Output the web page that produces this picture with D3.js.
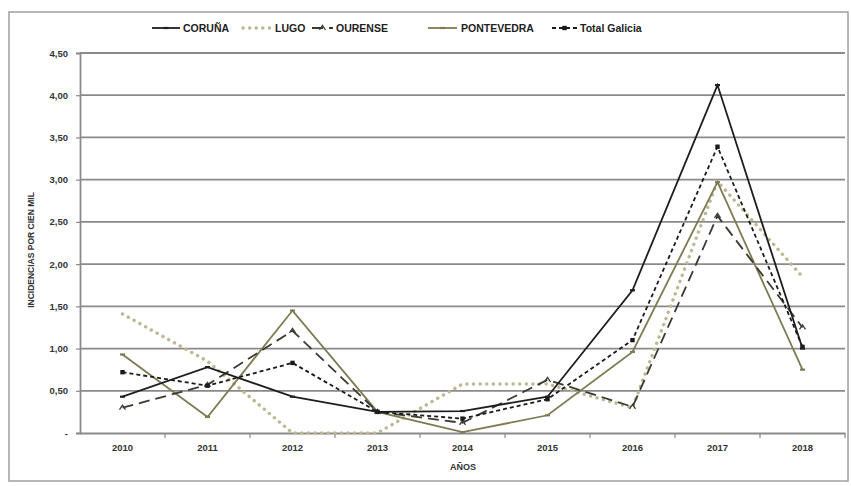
<!DOCTYPE html>
<html><head><meta charset="utf-8">
<script src="https://cdn.jsdelivr.net/npm/d3@7"></script>
<style>
body{margin:0;background:#fff;}
text{font-family:"Liberation Sans Narrow","Liberation Sans",Arial,sans-serif;font-weight:bold;}
</style></head>
<body><svg id="c" width="851" height="486"></svg>
<script>
const years = ["2010","2011","2012","2013","2014","2015","2016","2017","2018"];
const coruna = [0.43,0.78,0.43,0.25,0.26,0.43,1.69,4.12,1.00];
const lugo = [1.41,0.85,0.00,0.00,0.58,0.58,0.30,2.98,1.85];
const ourense = [0.30,0.57,1.21,0.25,0.12,0.63,0.31,2.57,1.25];
const pontevedra = [0.93,0.19,1.45,0.25,0.01,0.21,0.96,2.97,0.75];
const totalGalicia = [0.72,0.56,0.83,0.25,0.17,0.40,1.10,3.39,1.02];
const yTicks = [0,0.5,1,1.5,2,2.5,3,3.5,4,4.5];
const yTickLabels = ["-","0,50","1,00","1,50","2,00","2,50","3,00","3,50","4,00","4,50"];
const seriesNames = ["CORUÑA","LUGO","OURENSE","PONTEVEDRA","Total Galicia"];

const series = [
 {name:seriesNames[0], values:coruna, color:"#1e1e1e", dash:null, w:1.8, marker:"dash"},
 {name:seriesNames[1], values:lugo, color:"#bdb893", dash:"0.1,6.5", w:3.4, cap:"round", marker:null},
 {name:seriesNames[2], values:ourense, color:"#3a3a32", dash:"11,6", w:1.8, marker:"tri"},
 {name:seriesNames[3], values:pontevedra, color:"#7e7b52", dash:null, w:1.8, marker:"dash"},
 {name:seriesNames[4], values:totalGalicia, color:"#1a1a1a", dash:"4,3", w:1.8, marker:"sq"}
];

const svg = d3.select("#c");
svg.append("rect").attr("x",9).attr("y",12).attr("width",839).attr("height",469)
  .attr("fill","none").attr("stroke","#a0a0a0").attr("stroke-width",1.5);

const x = d3.scaleBand().domain(years).range([80,845]);
const y = d3.scaleLinear().domain([0,4.5]).range([433,53]);

svg.append("g").selectAll("line").data(yTicks.slice(1)).join("line")
  .attr("x1",80).attr("x2",845).attr("y1",d=>y(d)).attr("y2",d=>y(d))
  .attr("stroke","#8a8a8a").attr("stroke-width",1.8);

const yAxis = d3.axisLeft(y).tickValues(yTicks).tickSize(4).tickPadding(8)
  .tickFormat((d,i)=>yTickLabels[i]);
const gy = svg.append("g").attr("transform","translate(80,0)").call(yAxis);
gy.select(".domain").attr("stroke","#8a8a8a").attr("stroke-width",1.8);
gy.selectAll(".tick line").attr("stroke","#8a8a8a").attr("stroke-width",1.2);
gy.selectAll("text").attr("font-size",9.5).attr("fill","#333")
  .style("font-family","'Liberation Sans Narrow','Liberation Sans',sans-serif").style("font-weight","bold");

const gx = svg.append("g").attr("transform","translate(0,433)")
  .call(d3.axisBottom(x).tickSize(0).tickPadding(11));
gx.select(".domain").attr("stroke","#8a8a8a").attr("stroke-width",1.8);
gx.selectAll("text").attr("font-size",9.5).attr("fill","#333")
  .style("font-family","'Liberation Sans Narrow','Liberation Sans',sans-serif").style("font-weight","bold");
const bounds = years.map(d=>x(d)+x.bandwidth());
svg.append("g").selectAll("line").data(bounds).join("line")
  .attr("x1",d=>d).attr("x2",d=>d).attr("y1",433).attr("y2",438)
  .attr("stroke","#8a8a8a").attr("stroke-width",1.2);

svg.append("text").attr("transform","translate(34,250) rotate(-90)")
  .attr("text-anchor","middle").attr("font-size",8.5).attr("fill","#333")
  .text("INCIDENCIAS  POR  CIEN MIL");
svg.append("text").attr("x",463).attr("y",470).attr("text-anchor","middle")
  .attr("font-size",9).attr("fill","#333").text("AÑOS");

const cx = d=>x(d)+x.bandwidth()/2;
const line = d3.line().x((v,i)=>cx(years[i])).y(v=>y(v));

function marker(g, type, px, py, color){
  if(type==="dash") g.append("line").attr("x1",px-2.5).attr("x2",px+2.5).attr("y1",py).attr("y2",py).attr("stroke",color).attr("stroke-width",2.2);
  else if(type==="sq") g.append("rect").attr("x",px-2.2).attr("y",py-2.2).attr("width",4.4).attr("height",4.4).attr("fill",color);
  else if(type==="tri") g.append("path").attr("d",`M${px-3},${py+2}L${px},${py-2.5}L${px+3},${py+2}`).attr("fill","none").attr("stroke",color).attr("stroke-width",1.3);
}

const order = [1,3,2,4,0];
order.forEach(k=>{
  const s = series[k];
  const g = svg.append("g");
  g.append("path").datum(s.values).attr("d",line).attr("fill","none")
    .attr("stroke",s.color).attr("stroke-width",s.w)
    .attr("stroke-dasharray",s.dash).attr("stroke-linecap",s.cap||"butt")
    .attr("stroke-linejoin","miter");
  if(s.marker) s.values.forEach((v,i)=>marker(g,s.marker,cx(years[i]),y(v),s.color));
});

const legendX = [152,243,312,428,552];
const legendTX = [183,275,336,461,580];
const legendLen = [28,28,21,29,25];
const ly = 28;
series.forEach((s,i)=>{
  const g = svg.append("g");
  g.append("line").attr("x1",legendX[i]).attr("x2",legendX[i]+legendLen[i]).attr("y1",ly).attr("y2",ly)
    .attr("stroke",s.color).attr("stroke-width",s.w).attr("stroke-dasharray",s.dash).attr("stroke-linecap",s.cap||"butt");
  if(s.marker) marker(g,s.marker,legendX[i]+legendLen[i]/2,ly,s.color);
  g.append("text").attr("x",legendTX[i]).attr("y",ly+4).attr("font-size",10.5).attr("fill","#222").text(s.name);
});
</script></body></html>
